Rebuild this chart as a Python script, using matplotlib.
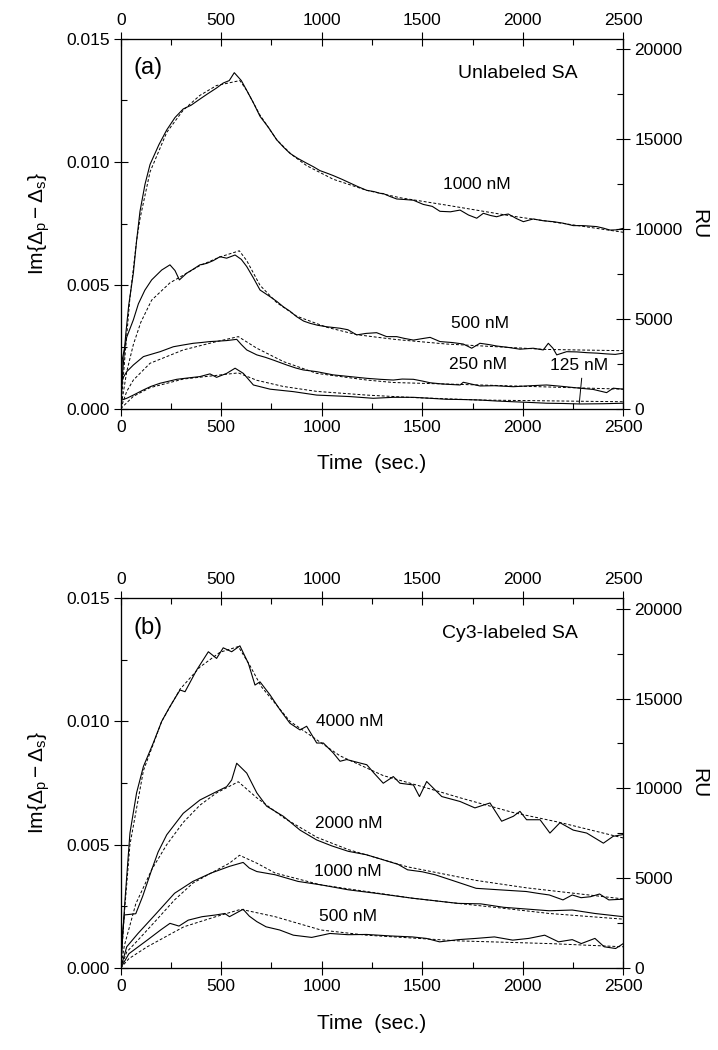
import numpy as np
import matplotlib
matplotlib.use('Agg')
from matplotlib import pyplot as plt
from matplotlib.ticker import MultipleLocator, FormatStrFormatter

plt.rcParams['font.family'] = ['Liberation Sans', 'DejaVu Sans']
plt.rcParams['mathtext.fontset'] = 'custom'
plt.rcParams['mathtext.rm'] = 'Liberation Sans'
plt.rcParams['mathtext.it'] = 'Liberation Sans:italic'

# values, y in units of 1e-3
# ---- panel (a): unlabeled SA ----
a1000_t = [0, 10, 25, 40, 63, 79, 96, 121, 146, 190, 229, 270, 311, 350, 394, 430, 477, 510, 540, 565, 600, 627, 660, 693, 735, 776, 810, 842, 880, 925, 960, 991, 1025, 1057, 1100, 1140, 1180, 1224, 1260, 1290, 1306, 1340, 1373, 1410, 1456, 1505, 1550, 1588, 1640, 1688, 1730, 1771, 1804, 1840, 1870, 1900, 1928, 1970, 2003, 2052, 2100, 2152, 2200, 2251, 2300, 2368, 2400, 2434, 2470, 2500]
a1000_y = [0, 1.5, 3.0, 4.2, 5.5, 6.8, 8.0, 9.1, 9.9, 10.7, 11.3, 11.8, 12.15, 12.3, 12.55, 12.75, 13.0, 13.2, 13.3, 13.62, 13.3, 12.9, 12.4, 11.85, 11.4, 10.9, 10.6, 10.35, 10.15, 9.95, 9.8, 9.65, 9.55, 9.45, 9.3, 9.15, 9.0, 8.85, 8.8, 8.73, 8.72, 8.6, 8.5, 8.48, 8.45, 8.28, 8.2, 8.0, 7.98, 8.05, 7.85, 7.72, 7.92, 7.83, 7.78, 7.85, 7.89, 7.7, 7.58, 7.69, 7.62, 7.58, 7.52, 7.42, 7.42, 7.38, 7.32, 7.24, 7.25, 7.31]
a1000_fit_t = [0, 20, 46, 79, 96, 146, 229, 311, 394, 477, 593, 627, 693, 776, 850, 925, 1057, 1224, 1390, 1621, 1952, 2250, 2500]
a1000_fit_y = [0, 2.0, 4.5, 6.8, 7.7, 9.6, 11.2, 12.1, 12.7, 13.1, 13.3, 12.9, 11.9, 10.9, 10.3, 9.85, 9.3, 8.85, 8.55, 8.25, 7.8, 7.45, 7.15]

a500_t = [0, 8, 30, 63, 88, 120, 154, 204, 245, 270, 292, 328, 360, 394, 428, 460, 494, 527, 569, 600, 627, 660, 693, 743, 776, 809, 842, 875, 910, 942, 980, 1025, 1091, 1130, 1174, 1220, 1273, 1323, 1373, 1410, 1456, 1500, 1539, 1588, 1650, 1704, 1746, 1787, 1830, 1870, 1930, 1986, 2052, 2102, 2127, 2150, 2169, 2218, 2270, 2318, 2370, 2417, 2460, 2500]
a500_y = [0, 2.0, 2.9, 3.6, 4.25, 4.8, 5.22, 5.62, 5.83, 5.6, 5.22, 5.49, 5.65, 5.83, 5.89, 6.0, 6.16, 6.1, 6.23, 6.05, 5.76, 5.3, 4.81, 4.54, 4.35, 4.13, 3.95, 3.73, 3.55, 3.46, 3.38, 3.32, 3.26, 3.2, 2.99, 3.05, 3.08, 2.92, 2.92, 2.85, 2.78, 2.84, 2.89, 2.72, 2.68, 2.62, 2.45, 2.65, 2.6, 2.54, 2.48, 2.41, 2.45, 2.38, 2.65, 2.45, 2.18, 2.31, 2.3, 2.27, 2.25, 2.22, 2.2, 2.25]
a500_fit_t = [0, 30, 63, 100, 154, 245, 394, 494, 590, 627, 693, 776, 875, 1025, 1174, 1290, 1373, 1621, 2118, 2500]
a500_fit_y = [0, 1.5, 2.6, 3.5, 4.4, 5.1, 5.8, 6.15, 6.4, 6.0, 5.0, 4.3, 3.75, 3.3, 3.0, 2.88, 2.8, 2.62, 2.4, 2.35]

a250_t = [0, 5, 30, 63, 113, 150, 196, 262, 310, 361, 400, 444, 490, 527, 577, 600, 627, 677, 720, 759, 826, 870, 908, 975, 1057, 1140, 1224, 1290, 1356, 1400, 1456, 1500, 1539, 1600, 1688, 1704, 1787, 1860, 1953, 2040, 2119, 2200, 2284, 2350, 2417, 2450, 2500]
a250_y = [0, 1.16, 1.5, 1.77, 2.11, 2.2, 2.31, 2.51, 2.58, 2.65, 2.68, 2.72, 2.74, 2.76, 2.81, 2.6, 2.38, 2.18, 2.08, 1.97, 1.77, 1.65, 1.57, 1.5, 1.37, 1.3, 1.23, 1.19, 1.16, 1.2, 1.19, 1.12, 1.05, 1.0, 0.96, 1.07, 0.92, 0.93, 0.89, 0.93, 0.96, 0.9, 0.83, 0.78, 0.65, 0.83, 0.79]
a250_fit_t = [0, 30, 63, 146, 311, 477, 585, 677, 809, 975, 1224, 1356, 1787, 2500]
a250_fit_y = [0, 0.7, 1.16, 1.84, 2.38, 2.72, 2.92, 2.45, 1.91, 1.43, 1.16, 1.06, 0.96, 0.79]

a125_t = [0, 5, 30, 63, 113, 150, 196, 279, 340, 394, 444, 477, 527, 569, 610, 660, 743, 859, 975, 1060, 1140, 1256, 1356, 1456, 1540, 1621, 1700, 1787, 1870, 1953, 2040, 2119, 2200, 2284, 2400, 2500]
a125_y = [0, 0.35, 0.42, 0.55, 0.76, 0.9, 1.03, 1.19, 1.25, 1.3, 1.41, 1.27, 1.43, 1.64, 1.43, 0.96, 0.79, 0.69, 0.55, 0.52, 0.49, 0.42, 0.46, 0.46, 0.42, 0.38, 0.37, 0.35, 0.31, 0.28, 0.25, 0.22, 0.21, 0.19, 0.2, 0.22]
a125_fit_t = [0, 63, 146, 311, 477, 585, 677, 809, 975, 1224, 1456, 1787, 2500]
a125_fit_y = [0, 0.5, 0.85, 1.2, 1.35, 1.45, 1.15, 0.9, 0.7, 0.55, 0.45, 0.35, 0.28]

# ---- panel (b): Cy3-labeled SA ----
b4000_t = [0, 20, 46, 79, 113, 162, 204, 245, 295, 320, 378, 436, 477, 510, 552, 593, 635, 668, 693, 743, 793, 842, 892, 925, 975, 1008, 1057, 1091, 1124, 1190, 1224, 1260, 1306, 1356, 1389, 1456, 1486, 1522, 1597, 1688, 1762, 1837, 1895, 1953, 1986, 2019, 2086, 2135, 2185, 2251, 2318, 2401, 2450, 2500]
b4000_y = [0, 2.6, 5.47, 7.1, 8.17, 9.12, 10.0, 10.6, 11.27, 11.2, 12.08, 12.82, 12.55, 12.98, 12.82, 13.06, 12.35, 11.47, 11.6, 11.07, 10.46, 9.92, 9.65, 9.8, 9.12, 9.12, 8.72, 8.38, 8.45, 8.31, 8.24, 7.9, 7.49, 7.76, 7.49, 7.42, 6.95, 7.56, 6.95, 6.75, 6.49, 6.69, 5.95, 6.15, 6.35, 6.01, 6.01, 5.47, 5.89, 5.59, 5.47, 5.06, 5.34, 5.41]
b4000_fit_t = [0, 20, 46, 113, 204, 295, 394, 494, 585, 640, 700, 842, 1091, 1306, 1522, 1688, 1953, 2185, 2500]
b4000_fit_y = [0, 2.4, 5.0, 8.0, 10.0, 11.3, 12.2, 12.8, 13.03, 12.3, 11.4, 10.0, 8.6, 7.8, 7.3, 6.9, 6.3, 5.9, 5.27]

b2000_t = [0, 10, 18, 75, 109, 155, 186, 229, 311, 394, 477, 527, 552, 577, 627, 677, 726, 809, 892, 975, 1050, 1132, 1223, 1300, 1380, 1427, 1500, 1564, 1650, 1768, 1882, 2018, 2080, 2132, 2200, 2246, 2290, 2337, 2382, 2428, 2500]
b2000_y = [0, 1.5, 2.15, 2.2, 2.9, 4.0, 4.7, 5.4, 6.27, 6.81, 7.15, 7.35, 7.62, 8.3, 7.9, 7.1, 6.56, 6.15, 5.59, 5.19, 4.95, 4.73, 4.59, 4.4, 4.2, 3.98, 3.9, 3.78, 3.55, 3.23, 3.17, 3.1, 3.02, 2.96, 2.76, 2.96, 2.85, 2.89, 3.0, 2.76, 2.79]
b2000_fit_t = [0, 18, 75, 155, 229, 311, 394, 477, 585, 677, 809, 975, 1132, 1427, 1768, 2018, 2500]
b2000_fit_y = [0, 0.9, 2.6, 4.0, 5.0, 5.9, 6.6, 7.1, 7.55, 6.9, 6.1, 5.3, 4.8, 4.1, 3.55, 3.25, 2.8]

b1000_t = [0, 30, 86, 177, 268, 359, 450, 541, 609, 640, 677, 768, 882, 996, 1132, 1268, 1450, 1677, 1791, 1905, 2132, 2246, 2359, 2500]
b1000_y = [0, 0.86, 1.4, 2.21, 3.03, 3.51, 3.85, 4.12, 4.28, 4.05, 3.91, 3.78, 3.51, 3.37, 3.17, 3.03, 2.83, 2.62, 2.6, 2.46, 2.32, 2.35, 2.21, 2.08]
b1000_fit_t = [0, 30, 86, 177, 268, 359, 450, 541, 591, 677, 768, 996, 1223, 1450, 1677, 1905, 2132, 2500]
b1000_fit_y = [0, 0.65, 1.13, 1.94, 2.76, 3.44, 3.85, 4.25, 4.57, 4.25, 3.85, 3.37, 3.1, 2.83, 2.62, 2.42, 2.21, 1.98]

b500_t = [0, 41, 132, 200, 245, 290, 336, 405, 473, 518, 541, 609, 640, 677, 723, 791, 859, 950, 1041, 1130, 1223, 1340, 1450, 1520, 1586, 1680, 1768, 1859, 1950, 2030, 2109, 2178, 2246, 2291, 2359, 2405, 2462, 2500]
b500_y = [0, 0.58, 1.13, 1.55, 1.81, 1.7, 1.94, 2.08, 2.15, 2.21, 2.08, 2.38, 2.1, 1.88, 1.67, 1.54, 1.33, 1.24, 1.4, 1.35, 1.36, 1.3, 1.26, 1.2, 1.06, 1.15, 1.2, 1.26, 1.13, 1.2, 1.33, 1.06, 1.15, 0.99, 1.2, 0.86, 0.79, 0.99]
b500_fit_t = [0, 41, 132, 314, 473, 598, 768, 996, 1223, 1677, 2132, 2500]
b500_fit_y = [0, 0.38, 0.86, 1.67, 2.08, 2.38, 2.08, 1.54, 1.33, 1.1, 0.99, 0.86]

panels = [
    dict(tag='(a)', title='Unlabeled SA',
         curves=[(a1000_t, a1000_y, a1000_fit_t, a1000_fit_y),
                 (a500_t, a500_y, a500_fit_t, a500_fit_y),
                 (a250_t, a250_y, a250_fit_t, a250_fit_y),
                 (a125_t, a125_y, a125_fit_t, a125_fit_y)],
         labels=[('1000 nM', 1770, 9.07), ('500 nM', 1787, 3.46),
                 ('250 nM', 1779, 1.77), ('125 nM', 2280, 1.73)],
         box=[0.1681, 0.6108, 0.7000, 0.3524]),
    dict(tag='(b)', title='Cy3-labeled SA',
         curves=[(b4000_t, b4000_y, b4000_fit_t, b4000_fit_y),
                 (b2000_t, b2000_y, b2000_fit_t, b2000_fit_y),
                 (b1000_t, b1000_y, b1000_fit_t, b1000_fit_y),
                 (b500_t, b500_y, b500_fit_t, b500_fit_y)],
         labels=[('4000 nM', 1140, 9.98), ('2000 nM', 1132, 5.87),
                 ('1000 nM', 1132, 3.91), ('500 nM', 1132, 2.08)],
         box=[0.1681, 0.0781, 0.7000, 0.3524]),
]

fig = plt.figure(figsize=(7.18, 10.5), dpi=100)

def style_ticks(ax):
    ax.tick_params(which='major', direction='inout', length=10, width=0.8, labelsize=12.5, pad=3)
    ax.tick_params(which='minor', direction='in', length=4, width=0.8)

for p in panels:
    ax = fig.add_axes(p['box'])
    for t, y, ft, fy in p['curves']:
        ax.plot(t, np.array(y) * 1e-3, color='black', lw=0.8)
        ax.plot(ft, np.array(fy) * 1e-3, color='black', lw=0.7, ls=(0, (3, 2)))
    for txt, tx, ty in p['labels']:
        ax.text(tx, ty * 1e-3, txt, ha='center', va='center', fontsize=12.5)
    if p['tag'] == '(a)':
        ax.plot([2293, 2281], [1.23e-3, 0.22e-3], color='black', lw=0.7)
    ax.text(0.025, 0.92, p['tag'], transform=ax.transAxes, fontsize=17, va='center')
    ax.text(0.91, 0.905, p['title'], transform=ax.transAxes, fontsize=14, ha='right', va='center')

    ax.set_xlim(0, 2500)
    ax.set_ylim(0, 0.015)
    ax.xaxis.set_major_locator(MultipleLocator(500))
    ax.xaxis.set_minor_locator(MultipleLocator(250))
    ax.yaxis.set_major_locator(MultipleLocator(0.005))
    ax.yaxis.set_minor_locator(MultipleLocator(0.0025))
    ax.yaxis.set_major_formatter(FormatStrFormatter('%.3f'))
    style_ticks(ax)
    ax.set_xlabel('Time  (sec.)', fontsize=15, labelpad=14)
    ax.set_ylabel(r'Im{$\Delta_{\rm p}-\Delta_{\rm s}$}', fontsize=15, labelpad=10)

    top = ax.twiny()
    top.set_xlim(0, 2500)
    top.xaxis.set_major_locator(MultipleLocator(500))
    top.xaxis.set_minor_locator(MultipleLocator(250))
    style_ticks(top)

    ru = ax.twinx()
    ru.set_ylim(0, 20600)
    ru.yaxis.set_major_locator(MultipleLocator(5000))
    ru.yaxis.set_minor_locator(MultipleLocator(2500))
    style_ticks(ru)
    ru.set_ylabel('RU', fontsize=15, rotation=270, labelpad=18)

    for a in (ax, ru, top):
        for s in a.spines.values():
            s.set_linewidth(0.8)

fig.savefig('out.png', dpi=100)
